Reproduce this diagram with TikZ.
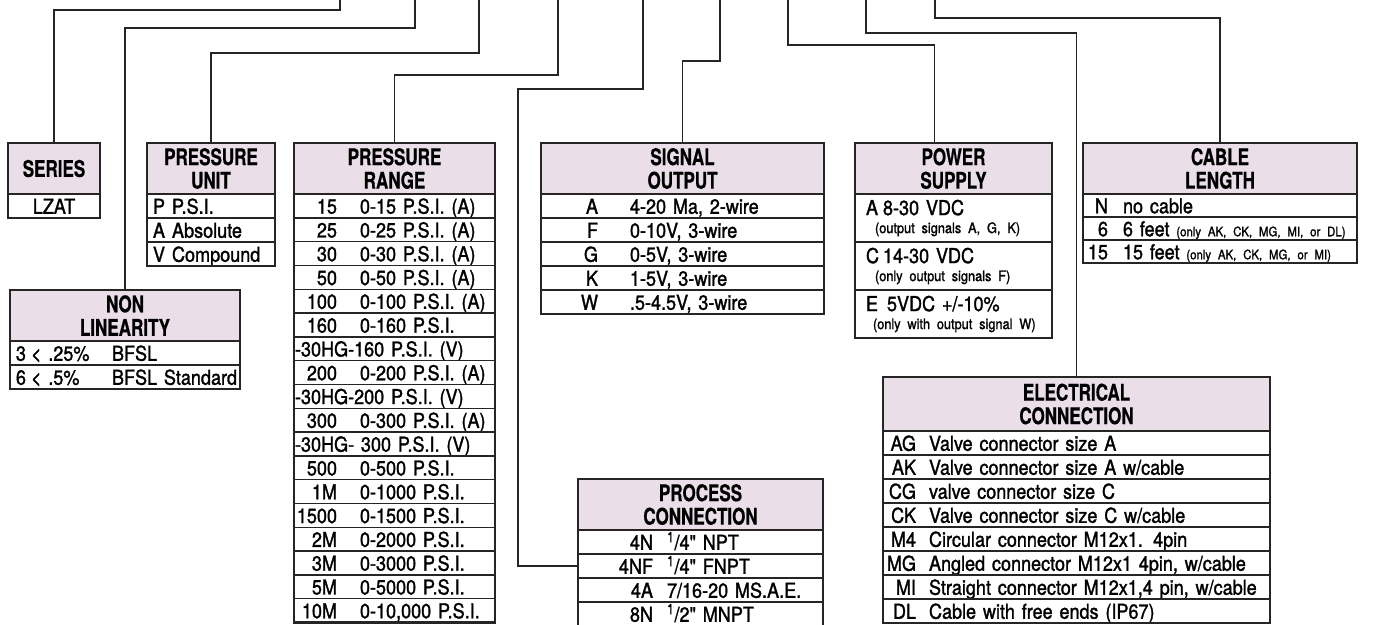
\documentclass[tikz,border=0pt]{standalone}
\usepackage{fontspec}
\setmainfont{TeX Gyre Heros}
\newfontfamily\hdrfam{TeX Gyre Heros}[FakeStretch=0.74,FakeBold=0.6]
\newfontfamily\cellfam{TeX Gyre Heros}[FakeStretch=0.88,FakeBold=1.4]
\usetikzlibrary{positioning}

\definecolor{ink}{RGB}{38,36,37}
\definecolor{hdrpink}{RGB}{234,222,232}

\newcommand{\hdrfont}{\hdrfam\bfseries\fontsize{23}{23.5}\selectfont}
\newcommand{\cellfont}{\cellfam\fontsize{20.5}{22}\selectfont}
\newcommand{\notefont}{\cellfam\fontsize{14.5}{15}\selectfont}
\newcommand{\cablenote}{\cellfam\fontsize{13}{14}\selectfont}

\newlength{\codew}
\newlength{\codegap}
\newcommand{\ent}[2]{\makebox[\codew][r]{#1}\hspace{\codegap}\mbox{#2}}

\begin{document}
\begin{tikzpicture}[
    x = 1pt, y = -1pt,
    hdr/.style = {
        draw=ink, line width=1.4pt, fill=hdrpink,
        minimum height=51pt, inner sep=0pt, outer sep=0pt,
        align=center, font=\hdrfont
    },
    cell/.style = {
        draw=ink, line width=1.4pt, minimum height=24pt,
        inner sep=0pt, outer sep=0pt,
        align=left, font=\cellfont, text height=15.5pt, text depth=0pt
    },
    codes/.style 2 args = {
        execute at begin node={\setlength{\codew}{#1}\setlength{\codegap}{#2}}
    },
    unitrow/.style   = {cell, text width=128pt, codes={18pt}{7pt}},
    nonlinrow/.style = {cell, text width=230pt, codes={16pt}{5pt}},
    rangerow/.style  = {cell, text width=201pt, codes={43pt}{23pt}, minimum height=23.8pt},
    signalrow/.style = {cell, text width=283pt, codes={57pt}{32pt}},
    powerrow/.style  = {cell, text width=197pt, minimum height=48pt,
        text height=, text depth=},
    cablerow/.style  = {cell, text width=274pt, codes={25pt}{15pt}, minimum height=23pt},
    procrow/.style   = {cell, text width=245pt, codes={75pt}{14pt}},
    elecrow/.style   = {cell, text width=387pt, codes={33pt}{13pt}},
    frame/.style = {draw=ink, line width=2.2pt},
    wire/.style  = {draw=ink, line width=1.8pt}
]
\useasboundingbox (0,0) rectangle (1380,624);

%% Series
\node[hdr, minimum width=92pt, anchor=north west] (series) at (8,143) {SERIES};
\node[cell, text width=92pt, align=center, below=0pt of series] (series1) {LZAT};
\draw[frame] (series.north west) rectangle (series1.south east);

%% Pressure unit
\node[hdr, minimum width=128pt, anchor=north west] (unit) at (147,143) {PRESSURE\\UNIT};
\node[unitrow, below=0pt of unit]  (unit1) {\ent{P}{P.S.I.}};
\node[unitrow, below=0pt of unit1] (unit2) {\ent{A}{Absolute}};
\node[unitrow, below=0pt of unit2] (unit3) {\ent{V}{Compound}};
\draw[frame] (unit.north west) rectangle (unit3.south east);

%% Non linearity
\node[hdr, minimum width=230pt, anchor=north west] (nonlin) at (10,290) {NON\\LINEARITY};
\node[nonlinrow, below=0pt of nonlin]  (nonlin1) {\ent{3}{\makebox[81pt][l]{< .25\%}BFSL}};
\node[nonlinrow, below=0pt of nonlin1] (nonlin2) {\ent{6}{\makebox[81pt][l]{< .5\%}BFSL Standard}};
\draw[frame] (nonlin.north west) rectangle (nonlin2.south east);

%% Pressure range
\node[hdr, minimum width=201pt, anchor=north west] (range) at (294,143) {PRESSURE\\RANGE};
\node[rangerow, below=0pt of range]   (range1)  {\ent{15}{0-15 P.S.I. (A)}};
\node[rangerow, below=0pt of range1]  (range2)  {\ent{25}{0-25 P.S.I. (A)}};
\node[rangerow, below=0pt of range2]  (range3)  {\ent{30}{0-30 P.S.I. (A)}};
\node[rangerow, below=0pt of range3]  (range4)  {\ent{50}{0-50 P.S.I. (A)}};
\node[rangerow, below=0pt of range4]  (range5)  {\ent{100}{0-100 P.S.I. (A)}};
\node[rangerow, below=0pt of range5]  (range6)  {\ent{160}{0-160 P.S.I.}};
\node[rangerow, below=0pt of range6]  (range7)  {\hspace*{1pt}-30HG-160 P.S.I. (V)};
\node[rangerow, below=0pt of range7]  (range8)  {\ent{200}{0-200 P.S.I. (A)}};
\node[rangerow, below=0pt of range8]  (range9)  {\hspace*{1pt}-30HG-200 P.S.I. (V)};
\node[rangerow, below=0pt of range9]  (range10) {\ent{300}{0-300 P.S.I. (A)}};
\node[rangerow, below=0pt of range10] (range11) {\hspace*{1pt}-30HG- 300 P.S.I. (V)};
\node[rangerow, below=0pt of range11] (range12) {\ent{500}{0-500 P.S.I.}};
\node[rangerow, below=0pt of range12] (range13) {\ent{1M}{0-1000 P.S.I.}};
\node[rangerow, below=0pt of range13] (range14) {\ent{1500}{0-1500 P.S.I.}};
\node[rangerow, below=0pt of range14] (range15) {\ent{2M}{0-2000 P.S.I.}};
\node[rangerow, below=0pt of range15] (range16) {\ent{3M}{0-3000 P.S.I.}};
\node[rangerow, below=0pt of range16] (range17) {\ent{5M}{0-5000 P.S.I.}};
\node[rangerow, below=0pt of range17] (range18) {\ent{10M}{0-10,000 P.S.I.}};
\draw[frame] (range.north west) rectangle (range18.south east);

%% Signal output
\node[hdr, minimum width=283pt, anchor=north west] (signal) at (541,143) {SIGNAL\\OUTPUT};
\node[signalrow, below=0pt of signal]  (signal1) {\ent{A}{4-20 Ma, 2-wire}};
\node[signalrow, below=0pt of signal1] (signal2) {\ent{F}{0-10V, 3-wire}};
\node[signalrow, below=0pt of signal2] (signal3) {\ent{G}{0-5V, 3-wire}};
\node[signalrow, below=0pt of signal3] (signal4) {\ent{K}{1-5V, 3-wire}};
\node[signalrow, below=0pt of signal4] (signal5) {\ent{W}{.5-4.5V, 3-wire}};
\draw[frame] (signal.north west) rectangle (signal5.south east);

%% Power supply
\node[hdr, minimum width=197pt, anchor=north west] (power) at (855,143) {POWER\\SUPPLY};
\node[powerrow, below=0pt of power] (power1)
    {\hspace*{11pt}\makebox[17pt][l]{A}8-30 VDC\\[-4pt]\hspace*{20pt}{\notefont (output signals A, G, K)}};
\node[powerrow, below=0pt of power1] (power2)
    {\hspace*{11pt}\makebox[17pt][l]{C}14-30 VDC\\[-4pt]\hspace*{20pt}{\notefont (only output signals F)}};
\node[powerrow, below=0pt of power2] (power3)
    {\hspace*{11pt}\makebox[21pt][l]{E}5VDC +/-10\%\\[-4pt]\hspace*{18pt}{\notefont (only with output signal W)}};
\draw[frame] (power.north west) rectangle (power3.south east);

%% Cable length
\node[hdr, minimum width=274pt, anchor=north west] (cable) at (1083,143) {CABLE\\LENGTH};
\node[cablerow, below=0pt of cable]  (cable1) {\ent{N}{no cable}};
\node[cablerow, below=0pt of cable1] (cable2) {\ent{6}{6 feet {\cablenote (only AK, CK, MG, MI, or DL)}}};
\node[cablerow, below=0pt of cable2] (cable3) {\ent{15}{15 feet {\cablenote (only AK, CK, MG, or MI)}}};
\draw[frame] (cable.north west) rectangle (cable3.south east);

%% Process connection
\node[hdr, minimum width=245pt, anchor=north west] (proc) at (578,479) {PROCESS\\CONNECTION};
\node[procrow, below=0pt of proc]  (proc1) {\ent{4N}{\textsuperscript{1}/4" NPT}};
\node[procrow, below=0pt of proc1] (proc2) {\ent{4NF}{\textsuperscript{1}/4" FNPT}};
\node[procrow, below=0pt of proc2] (proc3) {\ent{4A}{7/16-20 MS.A.E.}};
\node[procrow, below=0pt of proc3] (proc4) {\ent{8N}{\textsuperscript{1}/2" MNPT}};
\draw[frame] (proc.north west) rectangle (proc4.south east);

%% Electrical connection
\node[hdr, minimum width=387pt, minimum height=54pt, anchor=north west] (elec) at (883,377) {ELECTRICAL\\CONNECTION};
\node[elecrow, below=0pt of elec]  (elec1) {\ent{AG}{Valve connector size A}};
\node[elecrow, below=0pt of elec1] (elec2) {\ent{AK}{Valve connector size A w/cable}};
\node[elecrow, below=0pt of elec2] (elec3) {\ent{CG}{valve connector size C}};
\node[elecrow, below=0pt of elec3] (elec4) {\ent{CK}{Valve connector size C w/cable}};
\node[elecrow, below=0pt of elec4] (elec5) {\ent{M4}{Circular connector M12x1. 4pin}};
\node[elecrow, below=0pt of elec5] (elec6) {\ent{MG}{Angled connector M12x1 4pin, w/cable}};
\node[elecrow, below=0pt of elec6] (elec7) {\ent{MI}{Straight connector M12x1,4 pin, w/cable}};
\node[elecrow, below=0pt of elec7] (elec8) {\ent{DL}{Cable with free ends (IP67)}};
\draw[frame] (elec.north west) rectangle (elec8.south east);

%% Leads from the part number above
\coordinate (tSeries) at (340,-5);
\coordinate (tNonlin) at (415,-5);
\coordinate (tUnit)   at (479,-5);
\coordinate (tRange)  at (558,-5);
\coordinate (tProc)   at (643,-5);
\coordinate (tSignal) at (720,-5);
\coordinate (tPower)  at (788,-5);
\coordinate (tElec)   at (866,-5);
\coordinate (tCable)  at (935,-5);
\coordinate (kProc)   at (518,89);

\draw[wire] (tSeries) -- ++(0,15) -| (series.north);
\draw[wire] (tNonlin) -- ++(0,33) -| (nonlin.north);
\draw[wire] (tUnit)   -- ++(0,58) -| (unit.north);
\draw[wire] (tRange)  -- ++(0,80) -| (range.north);
\draw[wire] (tProc) |- (kProc) |- (proc2.west);
\draw[wire] (tSignal) -- ++(0,66) -| (signal.north);
\draw[wire] (tPower)  -- ++(0,50) -| ([xshift=-19pt]power.north);
\draw[wire] (tElec)   -- ++(0,38) -| (elec.north);
\draw[wire] (tCable)  -- ++(0,23) -| (cable.north);

\end{tikzpicture}
\end{document}
